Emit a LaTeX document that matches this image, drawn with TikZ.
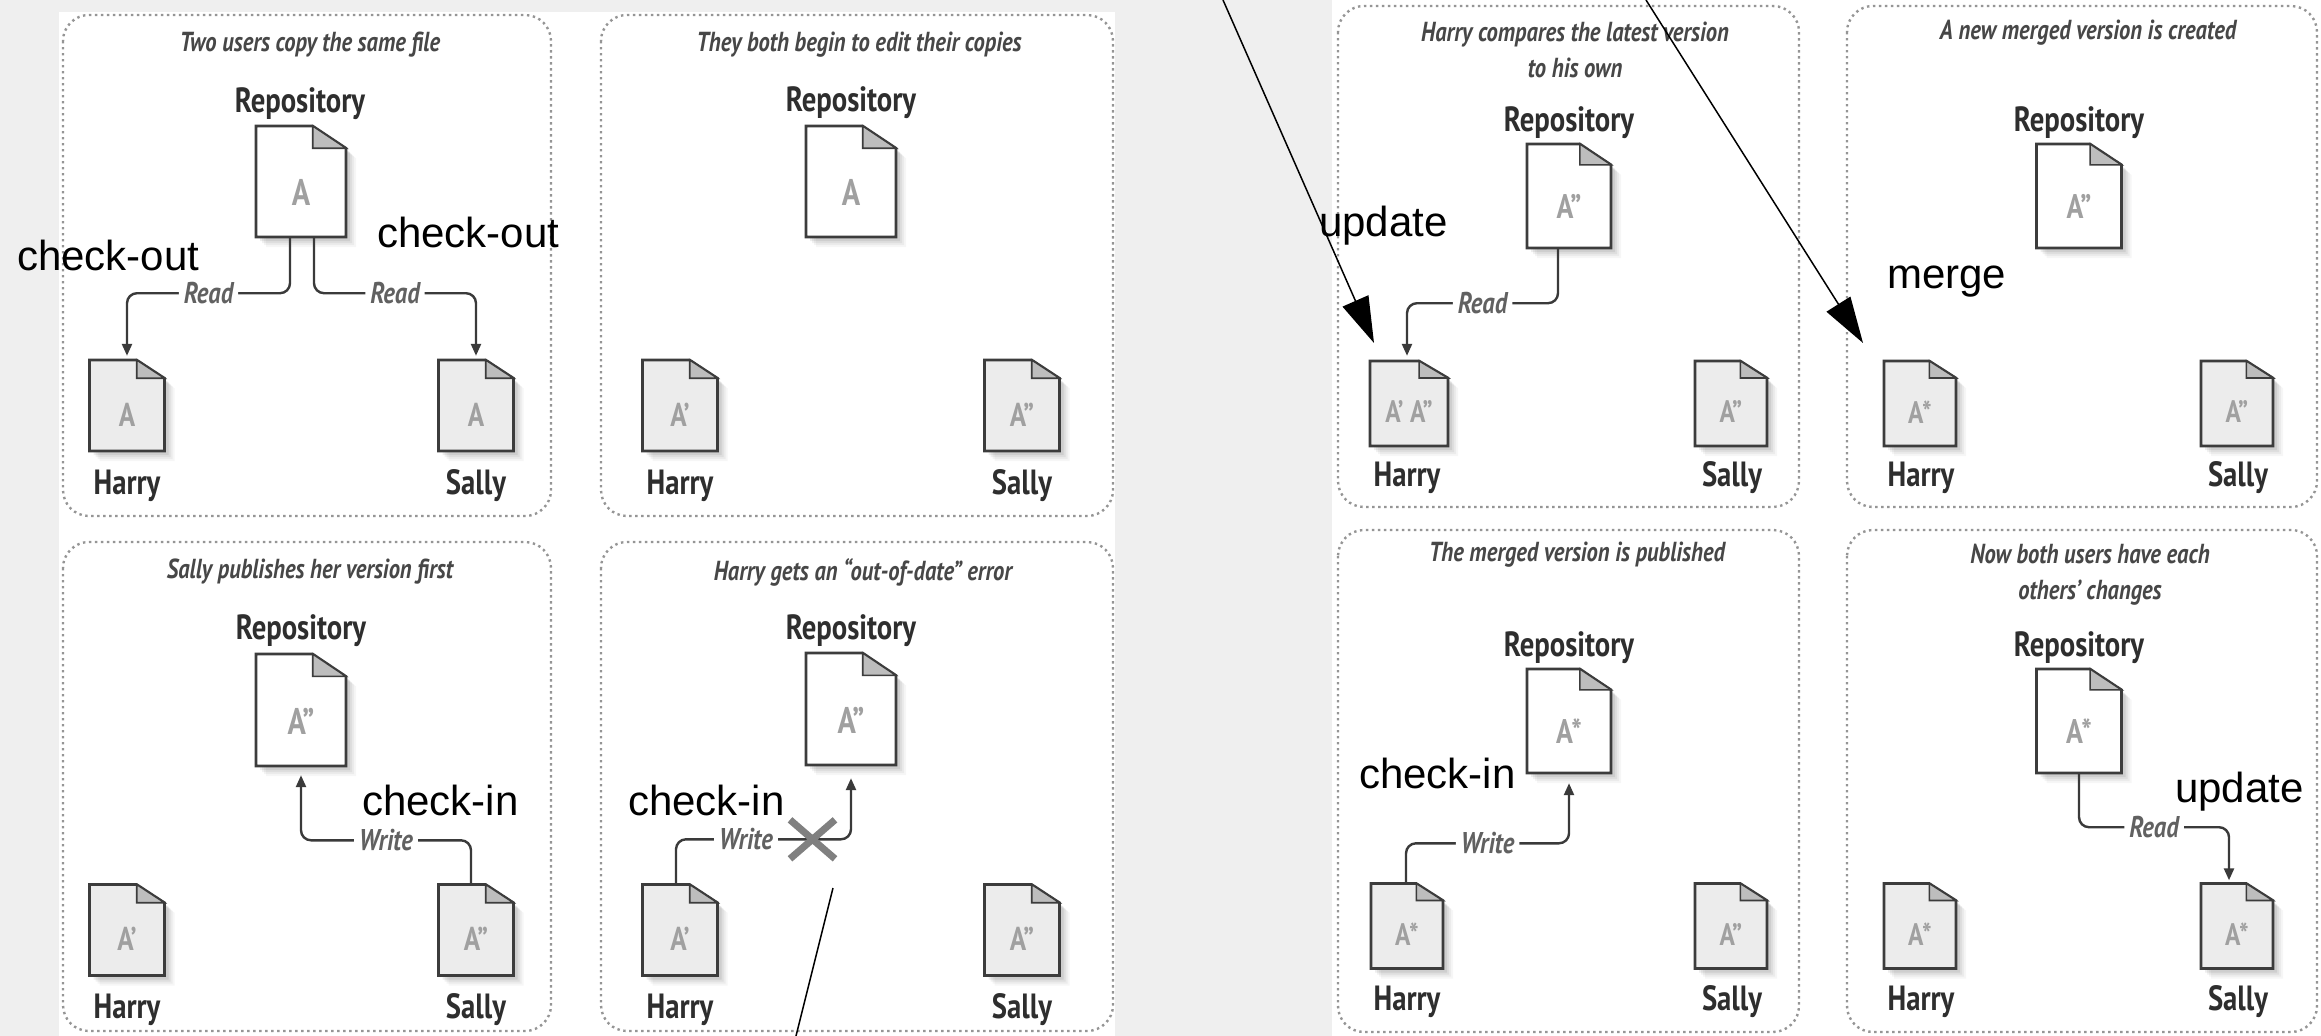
\documentclass[tikz,border=0pt]{standalone}
\usepackage{fontspec}
\setmainfont{Liberation Sans}
\newfontfamily\ptsans[FakeStretch=0.82]{PT Sans}
\usetikzlibrary{arrows.meta,shapes.misc,calc}
\definecolor{bggray}{HTML}{EFEFEF}
\definecolor{docline}{HTML}{3C3C3C}
\definecolor{foldgray}{HTML}{BDBDBD}
\definecolor{userfill}{HTML}{ECECEC}
\definecolor{lettergray}{HTML}{A0A0A0}
\definecolor{flowgray}{HTML}{3A3A3A}
\definecolor{dotgray}{HTML}{959595}
\tikzset{
  panel/.style={draw=dotgray, fill=white, line width=2.4pt, dash pattern=on 2.4pt off 3.6pt, rounded corners=26pt},
  ttl/.style={font=\ptsans\bfseries\itshape\fontsize{27.5}{36}\selectfont, text=black!72, inner sep=0, align=center},
  who/.style={font=\ptsans\bfseries\fontsize{35}{38}\selectfont, text=black!82, inner sep=0},
  lbl/.style={font=\ptsans\bfseries\itshape\fontsize{30}{32}\selectfont, text=black!62, fill=white, inner xsep=5pt, inner ysep=1pt},
  flow/.style={draw=flowgray, line width=2.4pt, rounded corners=10pt, -{Triangle[length=12pt,width=10pt]}},
  xmark/.style={cross out, draw=black!50, line width=7pt, minimum width=38pt, minimum height=32pt, inner sep=0},
  note/.style={font=\fontsize{42}{48}\selectfont, text=black, inner sep=0, anchor=west},
  callout/.style={draw=black, line width=1.5pt, -{Triangle[length=46pt,width=28pt]}},
  plainline/.style={draw=black, line width=1.5pt},
  doctext/.style={text=lettergray, inner sep=0}
}
\newcommand\docfile[8]{%
  \pgfmathsetmacro\dxa{#2-#4/2}%
  \pgfmathsetmacro\dxb{#2+#4/2}%
  \pgfmathsetmacro\dya{#3-#5/2}%
  \pgfmathsetmacro\dyb{#3+#5/2}%
  \pgfmathsetmacro\dxf{\dxb-0.37*#4}%
  \pgfmathsetmacro\dyf{\dya+0.2*#5}%
  \foreach \dd/\oo in {10/0.035,8/0.045,6/0.055,4/0.07}{%
    \fill[black,opacity=\oo] (\dxa+\dd,\dya+\dd) -- (\dxf+\dd,\dya+\dd) -- (\dxb+\dd,\dyf+\dd) -- (\dxb+\dd,\dyb+\dd) -- (\dxa+\dd,\dyb+\dd) -- cycle;}%
  \filldraw[fill=#6, draw=docline, line width=2.6pt, line join=miter] (\dxa,\dya) -- (\dxf,\dya) -- (\dxb,\dyf) -- (\dxb,\dyb) -- (\dxa,\dyb) -- cycle;
  \filldraw[fill=foldgray, draw=docline, line width=1.6pt, line join=miter] (\dxf,\dya) -- (\dxf,\dyf) -- (\dxb,\dyf) -- cycle;
  \node[inner sep=0, minimum width=#4pt, minimum height=#5pt] (#1) at (#2,#3) {};
  \node[doctext, font=\ptsans\bfseries\fontsize{#8}{#8}\selectfont] (#1t) at (#2,{#3+0.1*#5}) {#7};
}
\begin{document}
\begin{tikzpicture}[x=1pt,y=-1pt]
\useasboundingbox (0,0) rectangle (2321,1036);
% background
\fill[bggray] (0,0) rectangle (2321,1036);
\fill[white] (59,12) rectangle (1115,1036);
\fill[white] (1332,0) rectangle (2321,1036);
% panels
\draw[panel] (63,15) rectangle (551,516);
\draw[panel] (601,15) rectangle (1113,516);
\draw[panel] (63,542) rectangle (551,1031);
\draw[panel] (601,542) rectangle (1113,1031);
\draw[panel] (1338,6) rectangle (1799,507);
\draw[panel] (1847,6) rectangle (2317,507);
\draw[panel] (1338,530) rectangle (1799,1032);
\draw[panel] (1847,530) rectangle (2317,1032);
% titles
\node[ttl] (t1) at (310,45) {Two users copy the same file};
\node[ttl] (t2) at (859,45) {They both begin to edit their copies};
\node[ttl] (t3) at (310,572) {Sally publishes her version first};
\node[ttl] (t4) at (863,572) {Harry gets an “out-of-date” error};
\node[ttl] (t5) at (1575,50) {Harry compares the latest version\\to his own};
\node[ttl] (t6) at (2088,33) {A new merged version is created};
\node[ttl] (t7) at (1577,555) {The merged version is published};
\node[ttl] (t8) at (2090,575) {Now both users have each\\others’ changes};
% repository labels
\node[who] (rl1) at (300,104) {Repository};
\node[who] (rl2) at (851,103) {Repository};
\node[who] (rl3) at (301,631) {Repository};
\node[who] (rl4) at (851,631) {Repository};
\node[who] (rl5) at (1569,123) {Repository};
\node[who] (rl6) at (2079,123) {Repository};
\node[who] (rl7) at (1569,648) {Repository};
\node[who] (rl8) at (2079,648) {Repository};
% user labels
\node[who] (hl1) at (127,486) {Harry};  \node[who] (sl1) at (476,486) {Sally};
\node[who] (hl2) at (680,486) {Harry};  \node[who] (sl2) at (1022,486) {Sally};
\node[who] (hl3) at (127,1010) {Harry}; \node[who] (sl3) at (476,1010) {Sally};
\node[who] (hl4) at (680,1010) {Harry}; \node[who] (sl4) at (1022,1010) {Sally};
\node[who] (hl5) at (1407,478) {Harry}; \node[who] (sl5) at (1732,478) {Sally};
\node[who] (hl6) at (1921,478) {Harry}; \node[who] (sl6) at (2238,478) {Sally};
\node[who] (hl7) at (1407,1002) {Harry}; \node[who] (sl7) at (1732,1002) {Sally};
\node[who] (hl8) at (1921,1002) {Harry}; \node[who] (sl8) at (2238,1002) {Sally};
% documents
\docfile{r1}{301}{181.5}{90}{111}{white}{A}{37}
\docfile{h1}{127}{405.5}{75}{91}{userfill}{A}{33}
\docfile{s1}{476}{405.5}{75}{91}{userfill}{A}{33}
\docfile{r2}{851}{181.5}{90}{111}{white}{A}{37}
\docfile{h2}{680}{405.5}{75}{91}{userfill}{A’}{33}
\docfile{s2}{1022}{405.5}{75}{91}{userfill}{A”}{33}
\docfile{r3}{301}{710}{90}{112}{white}{A”}{37}
\docfile{h3}{127}{930}{75}{91}{userfill}{A’}{33}
\docfile{s3}{476}{930}{75}{91}{userfill}{A”}{33}
\docfile{r4}{851}{709}{90}{112}{white}{A”}{37}
\docfile{h4}{680}{930}{75}{91}{userfill}{A’}{33}
\docfile{s4}{1022}{930}{75}{91}{userfill}{A”}{33}
\docfile{r5}{1569}{196}{84}{104}{white}{A”}{34}
\docfile{h5}{1409}{403.5}{78}{85}{userfill}{A’ A”}{31}
\docfile{s5}{1731}{403.5}{72}{85}{userfill}{A”}{31}
\docfile{r6}{2079}{196}{85}{104}{white}{A”}{34}
\docfile{h6}{1920}{403.5}{72}{85}{userfill}{A*}{31}
\docfile{s6}{2237}{403.5}{72}{85}{userfill}{A”}{31}
\docfile{r7}{1569}{721}{84}{104}{white}{A*}{34}
\docfile{h7}{1407}{926}{72}{85}{userfill}{A*}{31}
\docfile{s7}{1731}{926}{72}{85}{userfill}{A”}{31}
\docfile{r8}{2079}{721}{85}{104}{white}{A*}{34}
\docfile{h8}{1920}{926}{72}{85}{userfill}{A*}{31}
\docfile{s8}{2237}{926}{72}{85}{userfill}{A*}{31}
% flows
\draw[flow] ([xshift=-11pt]r1.south) -- ++(0,56) -| node[lbl,pos=0.25] (rd1a) {Read} ([yshift=4pt]h1.north);
\draw[flow] ([xshift=13pt]r1.south) -- ++(0,56) -| node[lbl,pos=0.25] (rd1b) {Read} ([yshift=4pt]s1.north);
\draw[flow] ([xshift=-5pt]s3.north) -- ++(0,-44) -| node[lbl,pos=0.25] (wr3) {Write} ([yshift=-9pt]r3.south);
\draw[flow] ([xshift=-4pt]h4.north) -- ++(0,-45) -| node[lbl,pos=0.2] (wr4) {Write} node[xmark,pos=0.39] (x4) {} ([yshift=-13pt]r4.south);
\draw[flow] ([xshift=-11pt]r5.south) -- ++(0,55) -| node[lbl,pos=0.25] (rd5) {Read} ([xshift=-2pt,yshift=5pt]h5.north);
\draw[flow] ([xshift=-1pt]h7.north) -- ++(0,-40) -| node[lbl,pos=0.25] (wr7) {Write} ([yshift=-10pt]r7.south);
\draw[flow] (r8.south) -- ++(0,54) -| node[lbl,pos=0.25] (rd8) {Read} ([xshift=-8pt,yshift=3pt]s8.north);
% annotations
\node[note] (co1) at (17,255) {check-out};
\node[note] (co2) at (377,232) {check-out};
\node[note] (ci3) at (362,800) {check-in};
\node[note] (ci4) at (628,800) {check-in};
\node[note] (up5) at (1319,226) {update};
\node[note] (mg6) at (1887,282) {merge};
\node[note] (ci7) at (1359,773) {check-in};
\node[note] (up8) at (2175,792) {update};
% callout lines
\coordinate (u1) at (1223,0);
\coordinate (u1tip) at (1374,343);
\coordinate (u2) at (1646,0);
\coordinate (u2tip) at (1863,343);
\coordinate (b1) at (833,888);
\coordinate (b2) at (795,1040);
\draw[callout] (u1) -- (u1tip);
\draw[callout] (u2) -- (u2tip);
\draw[plainline] (b1) -- (b2);
\end{tikzpicture}
\end{document}
